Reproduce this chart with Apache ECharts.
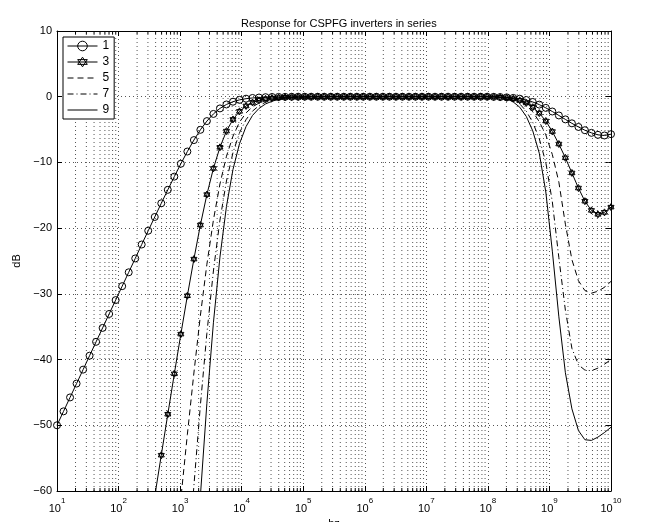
<!DOCTYPE html>
<html><head><meta charset="utf-8">
<script src="https://cdn.jsdelivr.net/npm/echarts@6/dist/echarts.min.js"></script>
<style>html,body{margin:0;padding:0;background:#fff}#c{width:647px;height:522px}</style>
</head><body><div id="c"></div>
<script>
// log10 of frequency (Hz) at each plotted point
const logF = [
1.000,1.106,1.212,1.318,1.424,1.529,1.635,1.741,1.847,1.953,
2.059,2.165,2.271,2.376,2.482,2.588,2.694,2.800,2.906,3.012,
3.118,3.224,3.329,3.435,3.541,3.647,3.753,3.859,3.965,4.071,
4.176,4.282,4.388,4.494,4.600,4.706,4.812,4.918,5.024,5.129,
5.235,5.341,5.447,5.553,5.659,5.765,5.871,5.976,6.082,6.188,
6.294,6.400,6.506,6.612,6.718,6.824,6.929,7.035,7.141,7.247,
7.353,7.459,7.565,7.671,7.776,7.882,7.988,8.094,8.200,8.306,
8.412,8.518,8.624,8.729,8.835,8.941,9.047,9.153,9.259,9.365,
9.471,9.576,9.682,9.788,9.894,10.000];

const s1 = [
-50.00,-47.88,-45.76,-43.65,-41.53,-39.41,-37.30,-35.18,-33.06,-30.95,
-28.83,-26.72,-24.61,-22.49,-20.39,-18.30,-16.22,-14.17,-12.16,-10.20,
-8.34,-6.60,-5.04,-3.71,-2.62,-1.78,-1.18,-0.76,-0.48,-0.30,
-0.19,-0.12,-0.07,-0.04,-0.03,-0.02,-0.01,0,0,0,
0,0,0,0,0,0,0,0,0,0,
0,0,0,0,0,0,0,0,0,0,
0,0,0,0,0,0,0,-0.02,-0.05,-0.10,
-0.18,-0.30,-0.50,-0.80,-1.20,-1.70,-2.25,-2.85,-3.45,-4.05,
-4.60,-5.10,-5.50,-5.80,-5.90,-5.70];

const s3 = [
null,null,null,null,null,null,null,null,null,null,
null,null,null,null,null,-60.83,-54.55,-48.32,-42.17,-36.13,
-30.29,-24.71,-19.53,-14.89,-10.91,-7.70,-5.23,-3.46,-2.23,-1.41,
-0.88,-0.55,-0.34,-0.21,-0.13,-0.08,-0.05,-0.03,-0.02,0,
0,0,0,0,0,0,0,0,0,0,
0,0,0,0,0,0,0,0,0,0,
0,0,0,0,0,0,0,-0.03,-0.08,-0.16,
-0.30,-0.55,-0.95,-1.60,-2.50,-3.70,-5.30,-7.20,-9.30,-11.60,
-13.90,-15.90,-17.30,-17.90,-17.60,-16.80];

const s5 = [
null,null,null,null,null,null,null,null,null,null,
null,null,null,null,null,null,null,null,-71.20,-61.16,
-51.38,-42.04,-33.33,-25.50,-18.77,-13.28,-9.06,-6.00,-3.87,-2.46,
-1.54,-0.96,-0.59,-0.37,-0.23,-0.14,-0.09,-0.05,-0.03,-0.02,
-0.01,0,0,0,0,0,0,0,0,0,
0,0,0,0,0,0,0,0,0,0,
0,0,0,0,0,0,0,-0.02,-0.05,-0.12,
-0.30,-0.65,-1.30,-2.30,-3.80,-5.80,-8.80,-13.00,-19.40,-24.80,
-28.00,-29.50,-29.90,-29.60,-29.00,-28.10];

const s7 = [
null,null,null,null,null,null,null,null,null,null,
null,null,null,null,null,null,null,null,null,null,
-72.30,-59.21,-46.99,-35.99,-26.52,-18.78,-12.83,-8.50,-5.49,-3.49,
-2.19,-1.36,-0.84,-0.52,-0.32,-0.20,-0.12,-0.07,-0.05,-0.03,
-0.02,-0.01,0,0,0,0,0,0,0,0,
0,0,0,0,0,0,0,0,0,0,
0,0,0,0,0,0,0,-0.03,-0.08,-0.20,
-0.50,-1.10,-2.20,-3.90,-6.40,-10.00,-16.00,-24.50,-32.50,-38.30,
-40.80,-41.60,-41.70,-41.30,-40.70,-40.00];

const s9 = [
null,null,null,null,null,null,null,null,null,null,
null,null,null,null,null,null,null,null,null,null,
null,-76.60,-60.84,-46.65,-34.40,-24.40,-16.69,-11.06,-7.15,-4.54,
-2.85,-1.78,-1.10,-0.68,-0.42,-0.26,-0.16,-0.10,-0.06,-0.04,
-0.02,-0.01,0,0,0,0,0,0,0,0,
0,0,0,0,0,0,0,0,0,0,
0,0,0,0,0,0,0,-0.04,-0.10,-0.30,
-0.80,-1.60,-3.00,-5.20,-8.60,-14.50,-23.50,-33.50,-42.00,-47.50,
-50.80,-52.20,-52.30,-51.80,-51.10,-50.30];

const seriesNames = ['1','3','5','7','9'];
const decadeExps = [1,2,3,4,5,6,7,8,9];
const minorMult = [2,3,4,5,6,7,8,9];

const FONT = 'Liberation Sans, Arial, Helvetica, sans-serif';
function toPairs(arr){
  const out = [];
  for (let i = 0; i < arr.length; i++) if (arr[i] !== null) out.push([Math.pow(10, logF[i]), arr[i]]);
  return out;
}
const minorData = [];
decadeExps.forEach(e => minorMult.forEach(m => minorData.push([m * Math.pow(10, e), 0])));

const hexagram = 'path://M0,-1L0.866,0.5L-0.866,0.5Z M0,1L0.866,-0.5L-0.866,-0.5Z';
const markerItem = {color: 'rgba(0,0,0,0)', borderColor: '#000', borderWidth: 1};
const gridDot = {color: '#555', width: 1, type: [1, 3]};
const hiddenSym = {opacity: 0};

const chart = echarts.init(document.getElementById('c'), null, {renderer: 'canvas'});
chart.setOption({
  animation: false,
  backgroundColor: '#fff',
  title: {text: 'Response for CSPFG inverters in series', left: 236, top: 13,
    textStyle: {fontFamily: FONT, fontSize: 11, fontWeight: 'normal', color: '#000'}},
  grid: {left: 57, right: 36, top: 31, bottom: 31, containLabel: false, outerBoundsMode: 'none'},
  legend: {
    data: [
      {name: seriesNames[0], itemStyle: markerItem},
      {name: seriesNames[1], itemStyle: markerItem},
      {name: seriesNames[2], itemStyle: hiddenSym},
      {name: seriesNames[3], itemStyle: hiddenSym},
      {name: seriesNames[4], itemStyle: hiddenSym}
    ],
    orient: 'vertical', left: 63, top: 37,
    itemWidth: 30, itemHeight: 12, itemGap: 4,
    padding: [3, 5, 3, 4], borderColor: '#000', borderWidth: 1, backgroundColor: '#fff',
    lineStyle: {width: 1},
    textStyle: {fontFamily: FONT, fontSize: 12, lineHeight: 12, color: '#000'},
    selectedMode: false
  },
  xAxis: [{
    type: 'log', logBase: 10, min: 10, max: 1e10, interval: 1,
    name: 'hz', nameLocation: 'middle', nameGap: 25,
    nameTextStyle: {fontFamily: FONT, fontSize: 11, color: '#000'},
    axisLine: {show: true, onZero: false, lineStyle: {color: '#000', width: 1}},
    axisTick: {show: true, inside: true, length: 5, lineStyle: {color: '#000'}},
    axisLabel: {margin: 6, color: '#000',
      formatter: v => '{b|10}{s|' + Math.round(Math.log10(v)) + '}',
      rich: {b: {fontFamily: FONT, fontSize: 11, color: '#000', lineHeight: 17, verticalAlign: 'bottom'},
             s: {fontFamily: FONT, fontSize: 8, color: '#000', verticalAlign: 'top'}}},
    splitLine: {show: true, lineStyle: gridDot},
    minorTick: {show: false}, minorSplitLine: {show: false}
  }, {
    type: 'log', logBase: 10, min: 10, max: 1e10, interval: 1, position: 'top',
    axisLine: {show: true, onZero: false, lineStyle: {color: '#000', width: 1}},
    axisTick: {show: true, inside: true, length: 5, lineStyle: {color: '#000'}},
    axisLabel: {show: false}, splitLine: {show: false}
  }],
  yAxis: [{
    type: 'value', min: -60, max: 10, interval: 10,
    name: 'dB', nameLocation: 'middle', nameGap: 35, nameRotate: 90,
    nameTextStyle: {fontFamily: FONT, fontSize: 11, color: '#000'},
    axisLine: {show: true, onZero: false, lineStyle: {color: '#000', width: 1}},
    axisTick: {show: true, inside: true, length: 5, lineStyle: {color: '#000'}},
    axisLabel: {margin: 5, fontFamily: FONT, fontSize: 11, color: '#000',
      formatter: v => (v < 0 ? '\u2212' + Math.abs(v) : String(v))},
    splitLine: {show: true, lineStyle: gridDot}
  }, {
    type: 'value', min: -60, max: 10, interval: 10, position: 'right',
    axisLine: {show: true, onZero: false, lineStyle: {color: '#000', width: 1}},
    axisTick: {show: true, inside: true, length: 5, lineStyle: {color: '#000'}},
    axisLabel: {show: false}, splitLine: {show: false}
  }],
  series: [
    {type: 'custom', name: 'minor', silent: true, z: 1, xAxisIndex: 0, yAxisIndex: 0,
      data: minorData, clip: true,
      renderItem: (params, api) => {
        const v = api.value(0);
        const t = api.coord([v, 10]);
        const b = api.coord([v, -60]);
        return {type: 'group', children: [
          {type: 'line', shape: {x1: b[0], y1: b[1], x2: t[0], y2: t[1]},
            style: {stroke: '#555', lineWidth: 1, lineDash: [1, 3]}},
          {type: 'line', shape: {x1: b[0], y1: b[1], x2: b[0], y2: b[1] - 3},
            style: {stroke: '#000', lineWidth: 1}},
          {type: 'line', shape: {x1: t[0], y1: t[1], x2: t[0], y2: t[1] + 3},
            style: {stroke: '#000', lineWidth: 1}}
        ]};
      }},
    {type: 'line', name: seriesNames[0], data: toPairs(s1), symbol: 'circle', symbolSize: 7, showSymbol: true,
      itemStyle: markerItem, lineStyle: {color: '#000', width: 1}, emphasis: {disabled: true}, z: 3},
    {type: 'line', name: seriesNames[1], data: toPairs(s3), symbol: hexagram, symbolSize: 7, symbolKeepAspect: true,
      showSymbol: true, itemStyle: markerItem, lineStyle: {color: '#000', width: 1}, emphasis: {disabled: true}, z: 3},
    {type: 'line', name: seriesNames[2], data: toPairs(s5), symbol: 'none', itemStyle: {color: '#000'},
      lineStyle: {color: '#000', width: 1, type: [6, 4]}, emphasis: {disabled: true}, z: 3},
    {type: 'line', name: seriesNames[3], data: toPairs(s7), symbol: 'none', itemStyle: {color: '#000'},
      lineStyle: {color: '#000', width: 1, type: [6, 3, 1, 3]}, emphasis: {disabled: true}, z: 3},
    {type: 'line', name: seriesNames[4], data: toPairs(s9), symbol: 'none', itemStyle: {color: '#000'},
      lineStyle: {color: '#000', width: 1}, emphasis: {disabled: true}, z: 3}
  ]
});
</script></body></html>
